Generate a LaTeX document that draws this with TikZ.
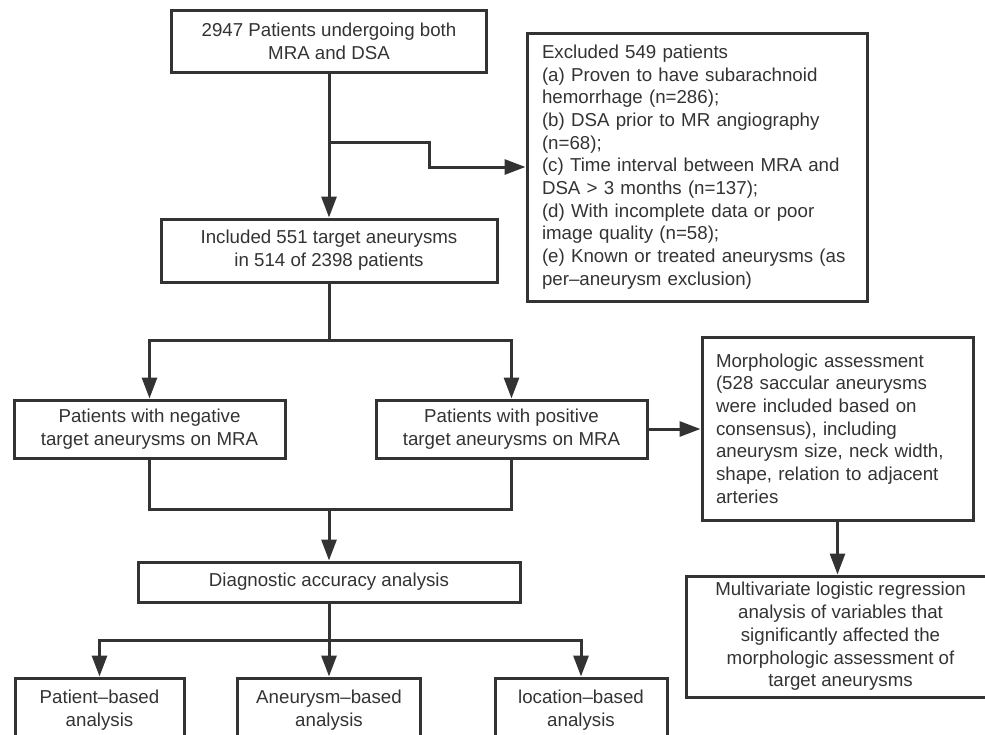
\documentclass[tikz,border=0pt]{standalone}
\usepackage{fontspec}
\setmainfont{Liberation Sans}
\usetikzlibrary{arrows.meta}
\definecolor{ink}{HTML}{333333}
\begin{document}
\begin{tikzpicture}[x=1pt,y=-1pt,
 box/.style={draw=ink, line width=3pt, text=ink, font=\fontsize{18.7}{22.7}\selectfont, inner sep=0pt, align=center, rectangle},
 ln/.style={draw=ink, line width=3pt},
 arr/.style={ln, -{Triangle[length=21pt,width=15pt]}}]
\useasboundingbox (0,0) rectangle (985,734);
\node[box, minimum width=315pt, minimum height=62pt] (top) at (329,41) {2947 Patients undergoing both\\MRA and DSA};
\node[box, minimum width=336pt, minimum height=63pt] (inc) at (329,250.5) {Included 551 target aneurysms\\in 514 of 2398 patients};
\node[box, minimum width=340pt, minimum height=268pt, align=left, text width=310pt] (exc) at (697,167) {Excluded 549 patients\\(a) Proven to have subarachnoid\\hemorrhage (n=286);\\(b) DSA prior to MR angiography\\(n=68);\\(c) Time interval between MRA and\\DSA {>} 3 months (n=137);\\(d) With incomplete data or poor\\image quality (n=58);\\(e) Known or treated aneurysms (as\\per--aneurysm exclusion)};
\node[box, minimum width=271pt, minimum height=58pt] (neg) at (149.5,429) {Patients with negative\\target aneurysms on MRA};
\node[box, minimum width=271pt, minimum height=58pt] (pos) at (511.5,429) {Patients with positive\\target aneurysms on MRA};
\node[box, minimum width=271pt, minimum height=183pt, align=left, text width=243pt] (mor) at (837.5,428.5) {Morphologic assessment\\(528 saccular aneurysms\\were included based on\\consensus), including\\aneurysm size, neck width,\\shape, relation to adjacent\\arteries};
\node[box, minimum width=309pt, minimum height=121pt] (mv) at (840.5,636.5) {Multivariate logistic regression\\analysis of variables that\\significantly affected the\\morphologic assessment of\\target aneurysms};
\node[box, minimum width=382pt, minimum height=40pt] (diag) at (329,582) {Diagnostic accuracy analysis};
\node[box, minimum width=169pt, minimum height=64pt] (pat) at (99.5,710) {Patient--based\\analysis};
\node[box, minimum width=183pt, minimum height=64pt] (ane) at (329,710) {Aneurysm--based\\analysis};
\node[box, minimum width=172pt, minimum height=64pt] (loc) at (581,710) {location--based\\analysis};
\coordinate (b1) at (329,142);
\coordinate (b2) at (429,142);
\coordinate (s1) at (329,340);
\coordinate (m1) at (329,509);
\coordinate (s2) at (329,640);
\draw[arr] (top.south) -- (inc.north);
\draw[arr] (b1) -- (b2) |- (exc.west);
\draw[ln] (inc.south) -- (s1);
\draw[arr] (s1) -| (neg.north);
\draw[arr] (s1) -| (pos.north);
\draw[ln] (neg.south) |- (m1) -| (pos.south);
\draw[arr] (m1) -- (diag.north);
\draw[arr] (pos.east) -- (pos.east -| mor.west);
\draw[arr] (mor.south) -- (mor.south |- mv.north);
\draw[ln] (diag.south) -- (s2);
\draw[arr] (s2) -| (pat.north);
\draw[arr] (s2) -- (ane.north);
\draw[arr] (s2) -| (loc.north);
\end{tikzpicture}
\end{document}
